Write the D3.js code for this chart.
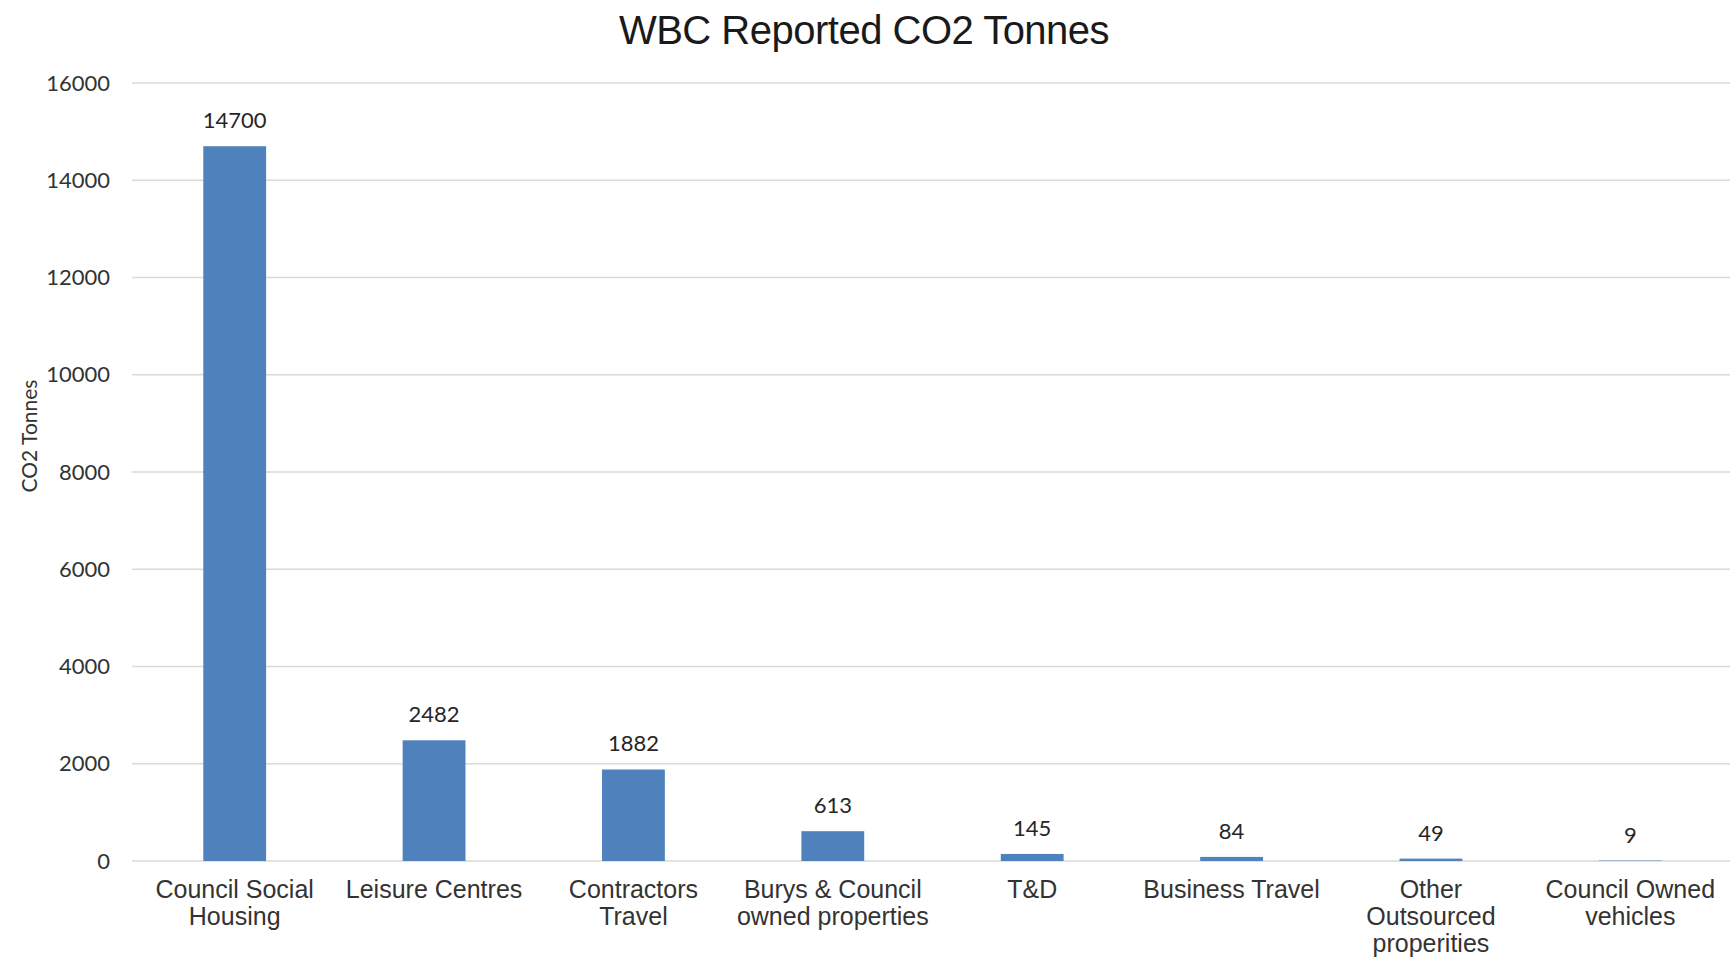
<!DOCTYPE html>
<html>
<head>
<meta charset="utf-8">
<script src="https://cdn.jsdelivr.net/npm/d3@7"></script>
<style>
  html, body { margin: 0; padding: 0; background: #ffffff; }
  svg { display: block; }
</style>
</head>
<body>
<div id="chart"></div>
<script>
const chartTitle = "WBC Reported CO2 Tonnes";
const yAxisTitle = "CO2 Tonnes";
const categories = [
  ["Council Social", "Housing"],
  ["Leisure Centres"],
  ["Contractors", "Travel"],
  ["Burys & Council", "owned properties"],
  ["T&D"],
  ["Business Travel"],
  ["Other", "Outsourced", "properities"],
  ["Council Owned", "vehicles"]
];
const values = [14700, 2482, 1882, 613, 145, 84, 49, 9];
const yTicks = [0, 2000, 4000, 6000, 8000, 10000, 12000, 14000, 16000];

const W = 1730, H = 958;
const margin = { left: 135, right: 0, top: 83, bottom: 97 };
const gridLeft = 132;

const svg = d3.select("#chart").append("svg")
  .attr("width", W).attr("height", H);

const labels = categories.map(c => c.join(" "));

const x = d3.scaleBand()
  .domain(labels)
  .range([margin.left, W - margin.right])
  .paddingInner(0.685)
  .paddingOuter(0.3425);

const y = d3.scaleLinear()
  .domain([0, 16000])
  .range([H - margin.bottom, margin.top]);

// gridlines
svg.append("g").selectAll("line")
  .data(yTicks)
  .join("line")
  .attr("x1", gridLeft).attr("x2", W)
  .attr("y1", d => y(d)).attr("y2", d => y(d))
  .attr("stroke", "#d9d9d9").attr("stroke-width", 1.3);

// y axis tick labels
const yAxis = d3.axisLeft(y).tickValues(yTicks).tickFormat(d3.format("d")).tickSize(0).tickPadding(22);
const gy = svg.append("g").attr("transform", `translate(${gridLeft},0)`).call(yAxis);
gy.select(".domain").remove();
gy.selectAll("text")
  .attr("font-family", "Lato, 'Liberation Sans', sans-serif")
  .attr("font-size", 22)
  .attr("fill", "#333333");

// bars
svg.append("g").selectAll("rect")
  .data(values)
  .join("rect")
  .attr("x", (d, i) => x(labels[i]))
  .attr("width", x.bandwidth())
  .attr("y", d => y(d))
  .attr("height", d => y(0) - y(d))
  .attr("fill", "#4f81bd");

// data labels
svg.append("g").selectAll("text")
  .data(values)
  .join("text")
  .attr("x", (d, i) => x(labels[i]) + x.bandwidth() / 2)
  .attr("y", d => y(d) - 18)
  .attr("text-anchor", "middle")
  .attr("font-family", "Lato, 'Liberation Sans', sans-serif")
  .attr("font-size", 22)
  .attr("fill", "#262626")
  .text(d => d);

// x axis labels
const gx = svg.append("g");
categories.forEach((lines, i) => {
  const cx = x(labels[i]) + x.bandwidth() / 2;
  const t = gx.append("text")
    .attr("x", cx)
    .attr("y", y(0) + 37)
    .attr("text-anchor", "middle")
    .attr("font-family", "'Liberation Sans', Arial, sans-serif")
    .attr("font-size", 25)
    .attr("fill", "#333333");
  lines.forEach((ln, j) => {
    t.append("tspan")
      .attr("x", cx)
      .attr("dy", j === 0 ? 0 : 27)
      .text(ln);
  });
});

// y axis title
svg.append("text")
  .attr("transform", `translate(37, ${(y(0) + y(16000)) / 2 - 36}) rotate(-90)`)
  .attr("text-anchor", "middle")
  .attr("font-family", "Lato, 'Liberation Sans', sans-serif")
  .attr("font-size", 21)
  .attr("fill", "#333333")
  .text(yAxisTitle);

// chart title
svg.append("text")
  .attr("x", 864)
  .attr("y", 44)
  .attr("text-anchor", "middle")
  .attr("font-family", "'Liberation Sans', Arial, sans-serif")
  .attr("font-size", 40)
  .attr("letter-spacing", -0.5)
  .attr("fill", "#1a1a1a")
  .text(chartTitle);
</script>
</body>
</html>
